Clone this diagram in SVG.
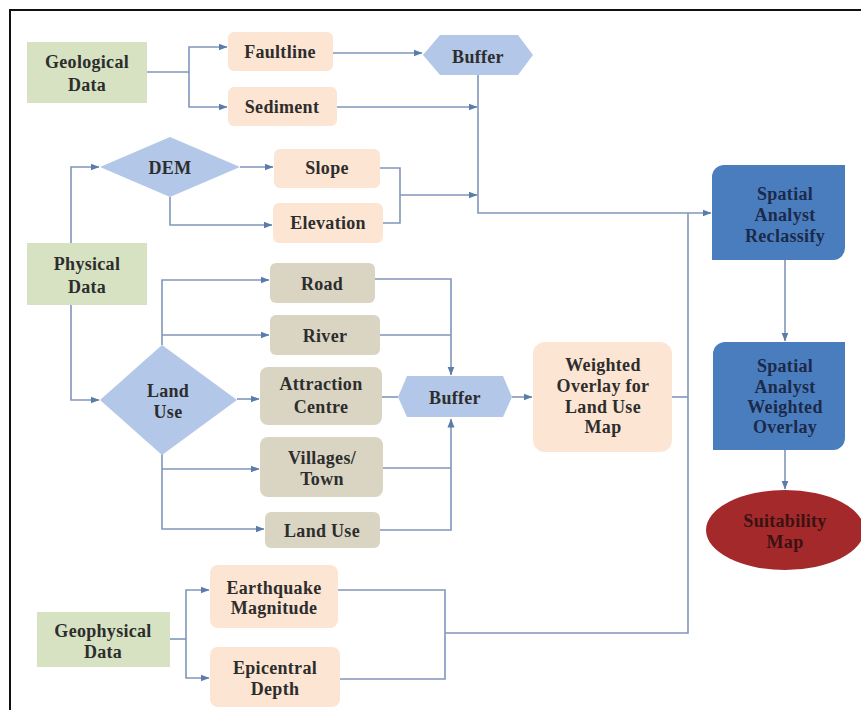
<svg xmlns="http://www.w3.org/2000/svg" width="861" height="710" viewBox="0 0 861 710">
<defs>
<marker id="ah" markerWidth="9" markerHeight="8" refX="8.5" refY="4" orient="auto" markerUnits="userSpaceOnUse">
<path d="M0,0.5 L9,4 L0,7.5 Z" fill="#5b7bab"/>
</marker>
<style>
.c{fill:none;stroke:#8196ba;stroke-width:1.6}
.a{marker-end:url(#ah)}
.g{fill:#d6e2c2}
.p{fill:#fde5d3}
.t{fill:#dad4c3}
.b{fill:#b3c8e8}
.d{fill:#4a7dbe}
.n{fill:#1b2a4a}
.r{fill:#3b1212}
</style>
</defs>
<rect width="861" height="710" fill="#ffffff"/>
<path d="M10,710 V10 H861" fill="none" stroke="#111" stroke-width="2"/>

<g id="connectors">
<path class="c a" d="M147,72 H189 V47 H227"/>
<path class="c a" d="M189,72 V107 H227"/>
<path class="c a" d="M333,53 H422"/>
<path class="c a" d="M337,107 H477"/>
<path class="c a" d="M478,75 V213 H711"/>
<path class="c" d="M380,168 H400 V223 H383"/>
<path class="c a" d="M400,195 H477"/>
<path class="c a" d="M71,243 V167 H99"/>
<path class="c a" d="M240,167 H273"/>
<path class="c a" d="M170,197 V225 H272"/>
<path class="c a" d="M71,305 V400 H99"/>
<path class="c a" d="M162,345 V280 H269"/>
<path class="c a" d="M162,335 H269"/>
<path class="c a" d="M237,399 H259"/>
<path class="c a" d="M162,453 V529 H264"/>
<path class="c a" d="M162,469 H259"/>
<path class="c a" d="M375,279 H451 V375"/>
<path class="c" d="M380,335 H451"/>
<path class="c a" d="M380,530 H451 V419"/>
<path class="c" d="M383,468 H451"/>
<path class="c" d="M382,397 H398"/>
<path class="c a" d="M512,397 H532"/>
<path class="c" d="M672,397 H688"/>
<path class="c" d="M688,213 V633 H445"/>
<path class="c" d="M338,590 H445 V679 H340"/>
<path class="c a" d="M785,260 V341"/>
<path class="c a" d="M785,450 V489"/>
<path class="c" d="M170,639 H186"/>
<path class="c a" d="M186,639 V590 H209"/>
<path class="c a" d="M186,639 V678 H209"/>
</g>

<g font-family="'Liberation Serif', 'DejaVu Serif', serif" font-weight="bold" font-size="18" fill="#2d2d2d" text-anchor="middle" letter-spacing="0.3">
<g id="geological">
<rect class="g" x="27" y="42" width="120" height="61"/>
<text x="87" y="68">Geological</text>
<text x="87" y="91">Data</text>
</g>
<g id="faultline">
<rect class="p" x="228" y="32" width="105" height="39" rx="6"/>
<text x="280" y="58">Faultline</text>
</g>
<g id="sediment">
<rect class="p" x="228" y="87" width="109" height="39" rx="6"/>
<text x="282" y="113">Sediment</text>
</g>
<g id="buffer1">
<polygon class="b" points="423,55 440,35 518,35 533,55 518,75 440,75"/>
<text x="478" y="63">Buffer</text>
</g>
<g id="dem">
<polygon class="b" points="100,167 170,137 240,167 170,197"/>
<text x="170" y="174">DEM</text>
</g>
<g id="slope">
<rect class="p" x="274" y="149" width="106" height="39" rx="6"/>
<text x="327" y="174">Slope</text>
</g>
<g id="elevation">
<rect class="p" x="273" y="203" width="110" height="40" rx="6"/>
<text x="328" y="229">Elevation</text>
</g>
<g id="physical">
<rect class="g" x="27" y="243" width="120" height="62"/>
<text x="87" y="270">Physical</text>
<text x="87" y="293">Data</text>
</g>
<g id="landuse-diamond">
<polygon class="b" points="100,400 162,345 237,400 162,455"/>
<text x="168" y="397">Land</text>
<text x="168" y="418">Use</text>
</g>
<g id="road">
<rect class="t" x="270" y="263" width="105" height="40" rx="6"/>
<text x="322" y="290">Road</text>
</g>
<g id="river">
<rect class="t" x="270" y="315" width="110" height="40" rx="6"/>
<text x="325" y="342">River</text>
</g>
<g id="attraction">
<rect class="t" x="260" y="367" width="122" height="58" rx="8"/>
<text x="321" y="390">Attraction</text>
<text x="321" y="413">Centre</text>
</g>
<g id="villages">
<rect class="t" x="260" y="437" width="123" height="60" rx="8"/>
<text x="322" y="464">Villages/</text>
<text x="322" y="485">Town</text>
</g>
<g id="landuse-box">
<rect class="t" x="265" y="512" width="115" height="36" rx="6"/>
<text x="322" y="537">Land Use</text>
</g>
<g id="buffer2">
<polygon class="b" points="398,397 407,376 503,376 512,397 503,417 407,417"/>
<text x="455" y="404">Buffer</text>
</g>
<g id="weighted-landuse">
<rect class="p" x="533" y="342" width="139" height="110" rx="12"/>
<text x="603" y="371">Weighted</text>
<text x="603" y="392">Overlay for</text>
<text x="603" y="413">Land Use</text>
<text x="603" y="433">Map</text>
</g>
<g id="reclassify">
<path class="d" d="M724,165 H845 V248 A12,12 0 0 1 833,260 H712 V177 A12,12 0 0 1 724,165 Z"/>
<text class="n" x="785" y="200">Spatial</text>
<text class="n" x="785" y="221">Analyst</text>
<text class="n" x="785" y="242">Reclassify</text>
</g>
<g id="weighted-overlay">
<path class="d" d="M725,342 H845 V438 A12,12 0 0 1 833,450 H713 V354 A12,12 0 0 1 725,342 Z"/>
<text class="n" x="785" y="372">Spatial</text>
<text class="n" x="785" y="393">Analyst</text>
<text class="n" x="785" y="413">Weighted</text>
<text class="n" x="785" y="433">Overlay</text>
</g>
<g id="suitability">
<ellipse cx="785" cy="530" rx="79" ry="40" fill="#a3292b"/>
<text class="r" x="785" y="527">Suitability</text>
<text class="r" x="785" y="548">Map</text>
</g>
<g id="geophysical">
<rect class="g" x="37" y="612" width="133" height="55"/>
<text x="103" y="637">Geophysical</text>
<text x="103" y="658">Data</text>
</g>
<g id="earthquake">
<rect class="p" x="210" y="565" width="128" height="63" rx="8"/>
<text x="274" y="594">Earthquake</text>
<text x="274" y="614">Magnitude</text>
</g>
<g id="epicentral">
<rect class="p" x="210" y="647" width="130" height="60" rx="8"/>
<text x="275" y="674">Epicentral</text>
<text x="275" y="695">Depth</text>
</g>
</g>
</svg>
